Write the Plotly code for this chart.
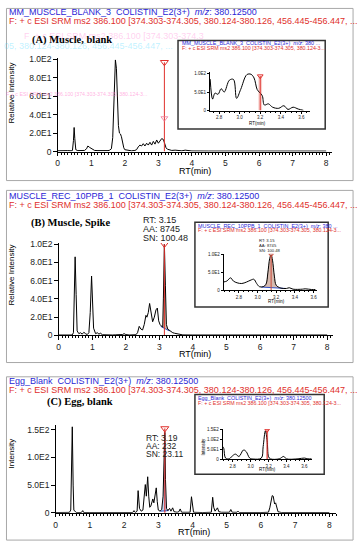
import plotly.graph_objects as go

W, H = 362, 550

# ---------------- data ----------------
A_main_t = [0.0, 0.1, 0.2, 0.3, 0.4, 0.44, 0.47, 0.49, 0.51, 0.54, 0.6, 0.7, 0.8, 0.86, 0.9, 0.95, 1.0, 1.05, 1.1, 1.2,
            1.3, 1.4, 1.5, 1.55, 1.6, 1.64, 1.68, 1.72, 1.75, 1.78, 1.81, 1.84, 1.87, 1.9, 1.93, 1.97, 2.0, 2.1, 2.2,
            2.3, 2.35, 2.4, 2.45, 2.5, 2.55, 2.6, 2.65, 2.7, 2.75, 2.8, 2.85, 2.9, 2.95, 3.0, 3.05, 3.1, 3.15, 3.2,
            3.23, 3.27, 3.3, 3.35, 3.4, 3.5, 3.6, 3.7, 3.8, 3.9, 4.0, 4.5, 5.0, 6.0, 7.0, 8.0]
A_main_v = [0.8, 1.0, 0.7, 1.0, 0.8, 1.2, 12, 26, 14, 2, 1.0, 0.8, 1.2, 3, 6, 4.5, 3.5, 2, 1.2, 1.0,
            0.8, 1.3, 1.0, 1.5, 3, 15, 55, 99, 90, 55, 28, 20, 19, 16, 10, 4, 2, 1.0, 0.8,
            1.2, 2, 5, 7, 6, 8.5, 6, 9, 7, 10, 7, 11, 8, 12.5, 9, 12, 14, 13, 8,
            4, 2.5, 2, 1.5, 1.2, 1.5, 1.0, 0.8, 1.5, 0.8, 0.6, 0.5, 0.5, 0.5, 0.5, 0.5]

A_ins_t = [2.713, 2.737, 2.76, 2.79, 2.82, 2.85, 2.9, 2.94, 2.97, 3.01, 3.07, 3.11, 3.14, 3.17, 3.19, 3.22, 3.24,
           3.28, 3.32, 3.38, 3.43, 3.47, 3.52, 3.57, 3.62]
A_ins_v = [85, 31, 47, 44, 59, 50, 82, 84, 33, 57, 97, 98, 88, 57, 50, 40, 15, 18, 9, 6, 13, 3, 9, 4, 0.5]

B_main_t = [0.0, 0.1, 0.2, 0.3, 0.4, 0.44, 0.47, 0.49, 0.52, 0.55, 0.6, 0.65, 0.7, 0.75, 0.8, 0.85, 0.9, 0.94,
            0.98, 1.01, 1.04, 1.1, 1.15, 1.2, 1.25, 1.3, 1.4, 1.5, 1.6, 1.7, 1.8, 1.9, 1.95, 2.0, 2.1, 2.2, 2.3,
            2.35, 2.4, 2.45, 2.5, 2.55, 2.6, 2.63, 2.67, 2.71, 2.75, 2.8, 2.85, 2.9, 2.94, 2.98, 3.02, 3.06, 3.1,
            3.12, 3.15, 3.18, 3.21, 3.25, 3.3, 3.35, 3.4, 3.45, 3.5, 3.55, 3.6, 3.7, 4.0, 5.0, 6.0, 7.0, 8.0]
B_main_v = [0.5, 0.6, 0.4, 0.6, 0.5, 3, 40, 86, 45, 5, 2, 3, 1.5, 3.5, 2, 1, 3, 25,
            65, 40, 8, 2, 3, 1.5, 2.5, 0.8, 0.5, 0.6, 0.5, 0.7, 0.5, 1.0, 2, 1.0, 0.5, 0.6, 0.8,
            3, 10, 7, 6, 12, 22, 20, 25, 35, 24, 15, 20, 28, 30, 16, 12, 10, 9,
            40, 100, 55, 12, 7, 5.5, 4, 3, 2.5, 2, 1.5, 1, 0.6, 0.5, 0.5, 0.5, 0.5, 0.5]

B_ins_t = [2.63, 2.67, 2.71, 2.74, 2.78, 2.83, 2.88, 2.93, 2.96, 2.99, 3.02, 3.06, 3.09, 3.11, 3.13, 3.145, 3.16,
           3.18, 3.2, 3.25, 3.31, 3.34, 3.38, 3.48, 3.51, 3.58, 3.62]
B_ins_v = [23, 26, 35, 26, 21, 19, 23, 29, 31, 19, 10, 10, 17, 49, 90, 100, 85, 40, 14, 6, 5, 7, 3, 3, 4, 2, 2]

C_main_t = [0.0, 0.2, 0.4, 0.44, 0.46, 0.485, 0.51, 0.53, 0.6, 0.75, 0.79, 0.82, 1.0, 1.5, 2.0, 2.25, 2.29, 2.33,
            2.38, 2.41, 2.45, 2.5, 2.55, 2.59, 2.62, 2.65, 2.69, 2.72, 2.75, 2.78, 2.81, 2.84, 2.87, 2.9, 2.94,
            2.97, 3.0, 3.05, 3.1, 3.14, 3.17, 3.19, 3.21, 3.24, 3.28, 3.33, 3.37, 3.42, 3.46, 3.55, 3.6, 3.64,
            3.68, 3.8, 3.93, 3.97, 4.0, 4.03, 4.3, 4.55, 4.59, 4.62, 4.66, 4.73, 4.77, 4.85, 5.08, 5.12, 5.16,
            5.3, 5.33, 5.37, 6.0, 6.22, 6.26, 6.3, 6.33, 6.36, 6.4, 6.43, 6.46, 6.5, 6.6, 7.0, 8.0]
C_main_v = [0.5, 0.5, 0.8, 5, 60, 155, 50, 5, 0.5, 0.5, 4, 0.5, 0.5, 0.5, 0.5, 0.5, 4, 0.5,
            3, 40, 8, 3, 5, 30, 51, 30, 65, 30, 10, 12, 20, 25, 18, 30, 45,
            20, 5, 3, 6, 30, 100, 145, 60, 8, 4, 8, 3, 9, 2, 1, 2, 7,
            1, 0.5, 1, 29, 12, 1, 0.5, 1, 28, 10, 3, 9, 2, 1, 1, 6, 1,
            1, 3, 0.5, 0.5, 1, 9, 20, 31, 30, 16, 18, 12, 2, 0.5, 0.5, 0.5]

C_ins_t = [2.69, 2.70, 2.72, 2.76, 2.79, 2.83, 2.87, 2.92, 2.95, 2.99, 3.03, 3.12, 3.14, 3.165, 3.185, 3.2, 3.22,
           3.32, 3.37, 3.4, 3.53, 3.6, 3.64, 3.68]
C_ins_v = [65, 57, 7, 3, 15, 27, 15, 48, 40, 7, 2, 7, 65, 145, 95, 15, 3, 3, 15, 3, 3, 7, 3, 3]

# marker (RT) lines: rt, top value
A_mark = (3.18, 96.5)
A_ins_mark = (3.2, 93)
B_mark = (3.15, 100)
B_ins_mark = (3.145, 100)
C_mark = (3.19, 152)
C_ins_mark = (3.185, 148)

y_ticks_100 = [0, 20, 40, 60, 80, 100]
y_text_100 = ["0", "2.0E1", "4.0E1", "6.0E1", "8.0E1", "1.0E2"]
y_ticks_ins = [0, 50, 100]
y_text_ins = ["0", "5.0E1", "1.0E2"]
y_ticks_150 = [0, 50, 100, 150]
y_text_150 = ["0", "5.0E1", "1.0E2", "1.5E2"]

NB = "\u00a0"
hdr_A = ["MM_MUSCLE_BLANK_3" + NB * 2 + "COLISTIN_E2(3+)" + NB * 2 + "<i>m/z</i>: 380.12500",
         "F: + c ESI SRM ms2 386.100 [374.303-374.305, 380.124-380.126, 456.445-456.447, ..."]
hdr_B = ["MUSCLE_REC_10PPB_1" + NB * 2 + "COLISTIN_E2(3+)" + NB * 2 + "<i>m/z</i>: 380.12500",
         hdr_A[1]]
hdr_C = ["Egg_Blank" + NB * 2 + "COLISTIN_E2(3+)" + NB * 2 + "<i>m/z</i>: 380.12500",
         hdr_A[1]]
ins_hdr_A = ["MM_MUSCLE_BLANK_3" + NB * 2 + "COLISTIN_E2(3+)" + NB * 2 + "<i>m/z</i>: 380 ...",
             "F: + c ESI SRM ms2 386.100 [374.303-374.305, 380.124-3..."]
ins_hdr_B = ["MUSCLE_REC_10PPB_1" + NB * 2 + "COLISTIN_E2(3+)" + NB * 2 + "<i>m/z</i>: 380 ...",
             ins_hdr_A[1]]
ins_hdr_C = ["Egg_Blank" + NB * 2 + "COLISTIN_E2(3+)" + NB * 2 + "<i>m/z</i>: 380.12500",
             ins_hdr_A[1]]
panel_labels = ["(A) Muscle, blank", "(B) Muscle, Spike", "(C) Egg, blank"]
B_info = ["RT: 3.15", "AA: 8745", "SN: 100.48"]
C_info = ["RT: 3.19", "AA: 232", "SN: 23.11"]

BLUE = "#2b1fd6"
RED = "#e0302c"
SANS = "Liberation Sans, Arial, sans-serif"
SERIF = "Liberation Serif, Times New Roman, serif"


def px(x):
    return x / W


def py(y):
    return 1 - y / H


fig = go.Figure()
layout = dict(width=W, height=H, margin=dict(l=0, r=0, t=0, b=0), paper_bgcolor="white",
              plot_bgcolor="rgba(0,0,0,0)", showlegend=False)
shapes = []
annotations = []


def add_axes(n, x0, x1, ybot, ytop, xr, yr, yvals, ytext, inset=False):
    fs = 4.5 if inset else 8.5
    sfx = "" if n == 1 else str(n)
    layout["xaxis" + sfx] = dict(
        domain=[px(x0), px(x1)], range=xr, anchor="y" + sfx, showline=True, linecolor="black", linewidth=1,
        ticks="outside", ticklen=2 if inset else 3.5, tickcolor="black", tickwidth=1, showgrid=False, zeroline=False,
        tickmode="linear", tick0=2.8 if inset else 0, dtick=0.2 if inset else 1,
        tickformat=".1f" if inset else "d",
        tickfont=dict(family=SANS, size=fs, color="#222"),
        minor=dict(dtick=0.05 if inset else 0.1, ticks="outside", ticklen=1 if inset else 2, tickcolor="black",
                   showgrid=False),
        fixedrange=True)
    layout["yaxis" + sfx] = dict(
        domain=[py(ybot), py(ytop)], range=yr, anchor="x" + sfx, showline=True, linecolor="black", linewidth=1,
        ticks="outside", ticklen=2 if inset else 3.5, tickcolor="black", showgrid=False, zeroline=False,
        tickmode="array", tickvals=yvals, ticktext=ytext,
        tickfont=dict(family=SANS, size=fs, color="#222"), fixedrange=True)


def trace(n, t, v, color="black", width=1, shape="linear"):
    sfx = "" if n == 1 else str(n)
    fig.add_trace(go.Scatter(x=t, y=v, mode="lines", line=dict(color=color, width=width, shape=shape),
                             xaxis="x" + sfx, yaxis="y" + sfx, hoverinfo="skip"))


def marker(n, rt, top, size=7, color=RED, band=None):
    sfx = "" if n == 1 else str(n)
    if band:
        shapes.append(dict(type="rect", xref="x" + sfx, yref="y" + sfx, x0=rt - band, x1=rt + band, y0=0,
                           y1=top, fillcolor="rgba(230,120,110,0.35)", line=dict(width=0), layer="below"))
    fig.add_trace(go.Scatter(x=[rt, rt], y=[0, top], mode="lines", line=dict(color=color, width=1),
                             xaxis="x" + sfx, yaxis="y" + sfx, hoverinfo="skip"))
    fig.add_trace(go.Scatter(x=[rt], y=[top], mode="markers",
                             marker=dict(symbol="triangle-down-open", color=color, size=size, line=dict(width=1)),
                             xaxis="x" + sfx, yaxis="y" + sfx, hoverinfo="skip"))


def peak_fill(n, t, v, t0, t1, b0, b1, color):
    sfx = "" if n == 1 else str(n)
    xs = [ti for ti in t if t0 <= ti <= t1]
    ys = [vi for ti, vi in zip(t, v) if t0 <= ti <= t1]
    fig.add_trace(go.Scatter(x=[t0] + xs + [t1, t0], y=[b0] + ys + [b1, b0], mode="lines", fill="toself",
                             fillcolor=color, line=dict(width=0), xaxis="x" + sfx, yaxis="y" + sfx,
                             hoverinfo="skip"))
    fig.add_trace(go.Scatter(x=[t0, t1], y=[b0, b1], mode="lines", line=dict(color="#3050c8", width=1),
                             xaxis="x" + sfx, yaxis="y" + sfx, hoverinfo="skip"))


def text(x, y, s, size, color="black", family=SANS, xanchor="left", angle=0):
    annotations.append(dict(x=px(x), y=py(y), xref="paper", yref="paper", text=s, showarrow=False,
                            xanchor=xanchor, yanchor="middle", textangle=angle,
                            font=dict(family=family, size=size, color=color)))


def box(x0, y0, x1, y1, color, width):
    shapes.append(dict(type="rect", xref="paper", yref="paper", x0=px(x0), x1=px(x1), y0=py(y1), y1=py(y0),
                       line=dict(color=color, width=width), fillcolor="rgba(0,0,0,0)", layer="below"))


# ---------------- panel boxes ----------------
box(4.5, 4.5, 353, 179.5, "#a8a8a8", 1)
box(4.5, 189.5, 353, 364.5, "#a8a8a8", 1)
box(4.5, 379, 353, 545, "#a8a8a8", 1)
box(177, 37, 325, 127, "#333", 1.5)
box(194, 222, 328, 308, "#333", 1.5)
box(194, 397, 324, 478, "#333", 1.5)

# ---------------- faint ghost text (panel A) ----------------
text(20, 33, "F" + NB * 2 + "+ c ESI SRM ms2 386.100 [374.303-374.3", 9, "rgba(255,120,210,0.35)")
text(0, 42.5, "05, 380.124-380.126, 456.445-456.447, ...", 9, "rgba(70,215,255,0.35)")
text(2, 92, "F + c ESI SRM ms2 386.100 [374.303-374.305, 380.124-3...", 5.3, "rgba(255,110,200,0.55)")

# ---------------- headers ----------------
for (yb, yr_, h) in [(8.3, 16.8, hdr_A), (195, 204, hdr_B), (383.5, 392, hdr_C)]:
    text(5, yb, h[0], 9, BLUE)
    text(5, yr_, h[1], 9, RED)
for (x, yb, yr_, h) in [(178.5, 40, 44.8, ins_hdr_A), (195.5, 225.2, 230, ins_hdr_B), (195.5, 400.5, 405.3, ins_hdr_C)]:
    text(x, yb, h[0], 5.4, BLUE)
    text(x, yr_, h[1], 5.3, RED)

text(28, 37, "<b>" + panel_labels[0] + "</b>", 10.5, "black", SERIF)
text(27, 223, "<b>" + panel_labels[1] + "</b>", 10.5, "black", SERIF)
text(43, 405, "<b>" + panel_labels[2] + "</b>", 10.5, "black", SERIF)

for i, s in enumerate(B_info):
    text(140, 219.5 + 9 * i, s, 9, "#222")
for i, s in enumerate(C_info):
    text(143, 441.5 + 7.8 * i, s, 8.5, "#222")
for i, s in enumerate(B_info):
    text(256.5, 240.5 + 5 * i, s, 4.2, "#222")

# axis titles
text(10, 90, "Relative Intensity", 8, "black", angle=-90, xanchor="center")
text(10, 275, "Relative Intensity", 8, "black", angle=-90, xanchor="center")
text(10, 457, "Intensity", 8, "black", angle=-90, xanchor="center")
text(203, 450, "Intensity", 4.5, "black", angle=-90, xanchor="center")
text(194, 169.5, "RT(min)", 9, "black", xanchor="center")
text(194, 355.5, "RT(min)", 9, "black", xanchor="center")
text(193, 536.5, "RT(min)", 9, "black", xanchor="center")
text(257, 121.5, "RT(min)", 4.5, "black", xanchor="center")
text(276, 302.5, "RT(min)", 4.5, "black", xanchor="center")
text(267, 473.5, "RT(min)", 4.5, "black", xanchor="center")

# ---------------- axes ----------------
add_axes(1, 56, 332, 150, 55, [0, 8.18], [0, 101.0], y_ticks_100, y_text_100)
add_axes(2, 209, 310, 108.3, 69, [2.71, 3.687], [0, 104.5], y_ticks_ins, y_text_ins, inset=True)
add_axes(3, 57, 333, 337, 243, [0, 8.18], [0, 101.1], y_ticks_100, y_text_100)
add_axes(4, 223, 317, 291, 254, [2.637, 3.64], [0, 102.8], y_ticks_ins, y_text_ins, inset=True)
add_axes(5, 54, 336, 517.3, 428, [0, 8.2], [0, 158.3], y_ticks_150, y_text_150)
add_axes(6, 222, 312, 463, 432, [2.689, 3.689], [0, 155], y_ticks_150, y_text_150, inset=True)

# ---------------- traces ----------------
trace(1, A_main_t, A_main_v)
marker(1, *A_mark)
fig.add_trace(go.Scatter(x=[A_mark[0]], y=[36], mode="markers",
                         marker=dict(symbol="triangle-down-open", color="rgba(240,120,150,0.8)", size=6),
                         xaxis="x", yaxis="y", hoverinfo="skip"))
trace(2, A_ins_t, A_ins_v, shape="spline")
marker(2, *A_ins_mark, size=5, band=0.018)

peak_fill(3, B_main_t, B_main_v, 3.04, 3.3, 10, 5, "rgba(175,125,95,0.55)")
trace(3, B_main_t, B_main_v)
marker(3, *B_mark)
peak_fill(4, B_ins_t, B_ins_v, 3.04, 3.3, 9, 5, "rgba(180,130,110,0.55)")
trace(4, B_ins_t, B_ins_v, shape="spline")
marker(4, *B_ins_mark, size=4, color="#c84a3a")

peak_fill(5, C_main_t, C_main_v, 3.06, 3.3, 3, 4, "rgba(120,170,230,0.45)")
trace(5, C_main_t, C_main_v)
marker(5, *C_mark, band=0.03)
trace(6, C_ins_t, C_ins_v, shape="spline")
marker(6, *C_ins_mark, size=4, band=0.012)

layout["shapes"] = shapes
layout["annotations"] = annotations
fig.update_layout(**layout)
fig.write_html("out.html", config={"displayModeBar": False},
               post_script="document.body.style.margin='0';document.body.style.overflow='hidden';")
